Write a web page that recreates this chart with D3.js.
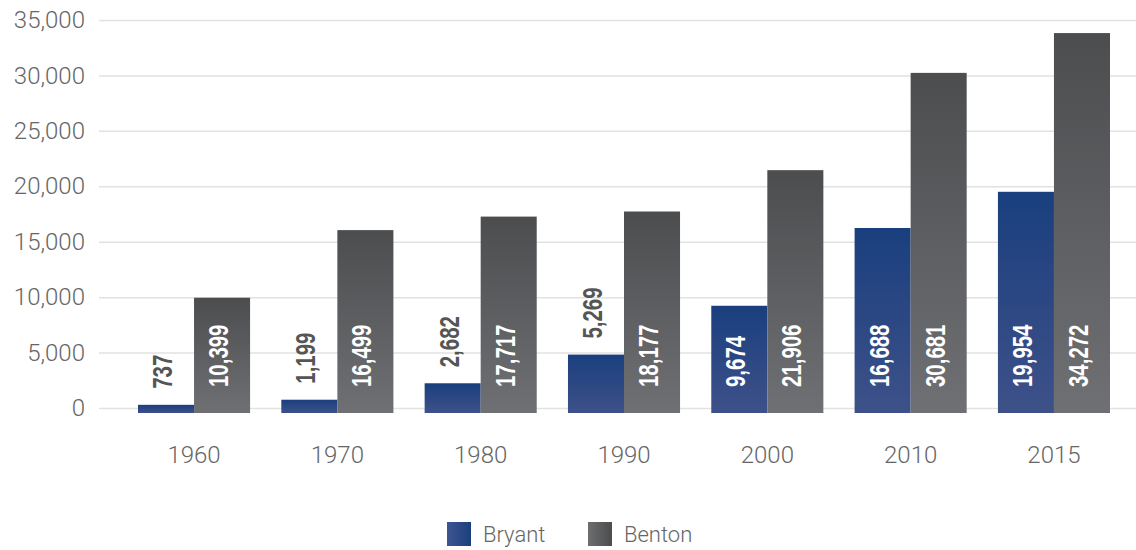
<!DOCTYPE html>
<html>
<head>
<meta charset="utf-8">
<script src="https://cdn.jsdelivr.net/npm/d3@7"></script>
<style>
  body { margin: 0; background: #fff; }
  svg { display: block; }
  .tick text, .lg { font-family: Roboto, "Liberation Sans", Arial, sans-serif; font-weight: 300; }
</style>
</head>
<body>
<div id="chart"></div>
<script>
// population, Bryant vs Benton
var years = ["1960", "1970", "1980", "1990", "2000", "2010", "2015"];
var bryant = [737, 1199, 2682, 5269, 9674, 16688, 19954];
var benton = [10399, 16499, 17717, 18177, 21906, 30681, 34272];
var seriesNames = ["Bryant", "Benton"];
var yTicks = [0, 5000, 10000, 15000, 20000, 25000, 30000, 35000];

var width = 1136, height = 550;
var baseDrop = 5; // bars sit a little below the 0 gridline
var squeeze = 0.73; // fake a condensed face

var svg = d3.select("#chart").append("svg")
    .attr("width", width)
    .attr("height", height);

var defs = svg.append("defs");
function grad(id, c1, c2, vertical) {
  var g = defs.append("linearGradient").attr("id", id)
    .attr("x1", 0).attr("y1", 0)
    .attr("x2", vertical ? 0 : 1).attr("y2", vertical ? 1 : 0);
  g.append("stop").attr("offset", "0%").attr("stop-color", c1);
  g.append("stop").attr("offset", "100%").attr("stop-color", c2);
}
grad("gBryant", "#1a3f7e", "#3e5189", true);
grad("gBenton", "#4c4d4f", "#6f7073", true);
grad("lBryant", "#3f5590", "#1a3f7d", false);
grad("lBenton", "#6e6e70", "#4b4c4e", false);

var y = d3.scaleLinear().domain([0, 35000]).range([408, 20]);

var x0 = d3.scaleBand().domain(years).range([138, 1110]).paddingInner(0.218).paddingOuter(0);
var x1 = d3.scaleBand().domain(seriesNames).range([0, x0.bandwidth()]);

// gridlines + y labels
var yAxis = svg.append("g")
    .attr("transform", "translate(99,0)")
    .call(d3.axisLeft(y).tickValues(yTicks).tickFormat(d3.format(",")).tickSize(-(width - 99)).tickPadding(14));
yAxis.select(".domain").remove();
yAxis.selectAll(".tick line").attr("stroke", "#e2e2e2").attr("stroke-width", 1.5);
yAxis.selectAll(".tick text").attr("fill", "#666").attr("font-size", 24);

// x labels
var xAxis = svg.append("g")
    .attr("transform", "translate(0,440)")
    .call(d3.axisBottom(x0).tickSize(0).tickPadding(0));
xAxis.select(".domain").remove();
xAxis.selectAll(".tick text").attr("fill", "#666").attr("font-size", 24).attr("dy", "0.95em");

var rows = years.map(function(yr, i) {
  return { year: yr, vals: [{ s: "Bryant", v: bryant[i] }, { s: "Benton", v: benton[i] }] };
});

var groups = svg.selectAll(".grp").data(rows).enter().append("g")
    .attr("class", "grp")
    .attr("transform", function(d) { return "translate(" + x0(d.year) + "," + baseDrop + ")"; });

groups.selectAll("rect").data(function(d) { return d.vals; }).enter().append("rect")
    .attr("x", function(d) { return x1(d.s); })
    .attr("width", x1.bandwidth())
    .attr("y", function(d) { return y(d.v); })
    .attr("height", function(d) { return y(0) - y(d.v); })
    .attr("fill", function(d) { return d.s == "Bryant" ? "url(#gBryant)" : "url(#gBenton)"; });

// value labels, rotated
var fmt = d3.format(",");
groups.selectAll("text.val").data(function(d) { return d.vals; }).enter().append("text")
    .attr("class", "val")
    .attr("font-family", "'Liberation Sans', Arial, sans-serif")
    .attr("font-weight", "bold")
    .attr("font-size", 28)
    .text(function(d) { return fmt(d.v); })
    .each(function(d) {
      var t = d3.select(this);
      var len = this.getComputedTextLength() * squeeze;
      var barH = y(0) - y(d.v);
      var cx = x1(d.s) + x1.bandwidth() / 2 + 6;
      var inside = barH > len + 30;
      var ty = inside ? y(0) - 26 : y(d.v) - 16;
      t.attr("transform", "translate(" + cx + "," + ty + ") rotate(-90) scale(" + squeeze + ",1)")
       .attr("fill", inside ? "#fff" : "#555");
    });

// legend
var legend = svg.append("g").attr("transform", "translate(447,522)");
var li = legend.selectAll("g").data(seriesNames).enter().append("g")
    .attr("transform", function(d, i) { return "translate(" + (i * 141) + ",0)"; });
li.append("rect").attr("width", 24).attr("height", 24)
    .attr("fill", function(d) { return d == "Bryant" ? "url(#lBryant)" : "url(#lBenton)"; });
li.append("text").attr("class", "lg").attr("x", 36).attr("y", 20)
    .attr("font-size", 22).attr("fill", "#666")
    .text(function(d) { return d; });
</script>
</body>
</html>
